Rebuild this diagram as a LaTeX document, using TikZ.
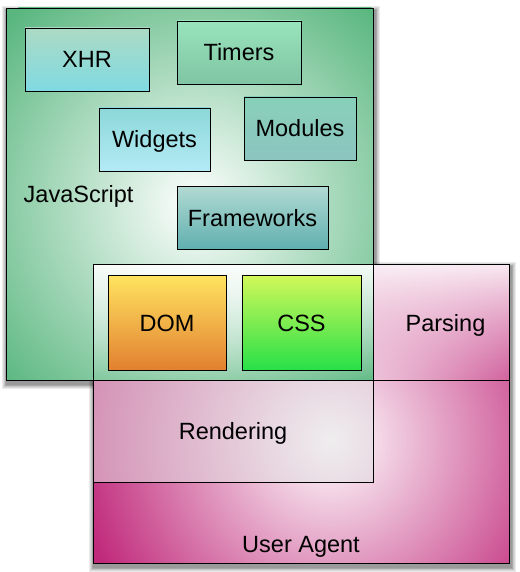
\documentclass[tikz,border=0pt]{standalone}
\usepackage{fontspec}
\setmainfont{Liberation Sans}
\usetikzlibrary{calc,fadings,backgrounds}
\definecolor{jsgreen}{RGB}{88,182,126}
\definecolor{uapink}{RGB}{192,40,122}
\definecolor{rendgray}{RGB}{226,224,226}
\definecolor{xhrtop}{RGB}{172,218,196}
\definecolor{xhrbot}{RGB}{128,218,226}
\definecolor{timtop}{RGB}{152,228,188}
\definecolor{timbot}{RGB}{128,196,164}
\definecolor{modtop}{RGB}{136,208,184}
\definecolor{modbot}{RGB}{140,196,192}
\definecolor{widtop}{RGB}{140,216,216}
\definecolor{widbot}{RGB}{180,234,246}
\definecolor{frmtop}{RGB}{178,218,210}
\definecolor{frmbot}{RGB}{96,176,176}
\definecolor{domtop}{RGB}{255,228,96}
\definecolor{dombot}{RGB}{226,128,48}
\definecolor{csstop}{RGB}{210,248,90}
\definecolor{cssbot}{RGB}{40,224,72}
\begin{document}
\begin{tikzpicture}[x=1pt,y=-1pt,
  txt/.style={font=\fontsize{23.5}{28}\selectfont},
  box/.style={txt, draw=black, line width=0.9pt, inner sep=0pt, text height=17pt, text depth=0pt},
  lbl/.style={txt, inner sep=0pt},
  radfill/.style n args={4}{path picture={
    \fill[#1] (path picture bounding box.north west) rectangle (path picture bounding box.south east);
    \shade[inner color=white, outer color=#1] ($(path picture bounding box.north west)+(#2,#3)$) circle (#4);}}]
\useasboundingbox (0,0) rectangle (519,572);

% User Agent container
\node[box, minimum width=416pt, minimum height=299pt, radfill={uapink}{237}{176}{260pt}] (ua) at (301,413.5) {};
% Rendering
\node[box, minimum width=280pt, minimum height=102pt, fill=rendgray, fill opacity=0.55, text opacity=1] (rend) at (233,431) {Rendering};
% JavaScript container
\node[box, minimum width=367pt, minimum height=372pt, radfill={jsgreen}{189}{197}{265pt}] (js) at (189.5,194) {};
% Parsing
\node[box, minimum width=416pt, minimum height=116pt,
  path picture={\fill[white, fill opacity=0.9, path fading=south] (path picture bounding box.north west) rectangle (path picture bounding box.south east);}] (pars) at (301,322) {};
\draw[line width=0.9pt] (js.east |- pars.north) -- (js.south east);

% inner boxes
\node[box, top color=xhrtop, bottom color=xhrbot, minimum width=124pt, minimum height=63pt] (xhr) at (87,59.5) {XHR};
\node[box, top color=timtop, bottom color=timbot, minimum width=124pt, minimum height=63pt] (timers) at (239,52.5) {Timers};
\node[box, top color=modtop, bottom color=modbot, minimum width=112pt, minimum height=63pt] (modules) at (300,128.5) {Modules};
\node[box, top color=widtop, bottom color=widbot, minimum width=111pt, minimum height=63pt] (widgets) at (154.5,139.5) {Widgets};
\node[box, top color=frmtop, bottom color=frmbot, minimum width=151pt, minimum height=63pt] (frameworks) at (252.5,217.5) {Frameworks};
\node[box, top color=domtop, bottom color=dombot, minimum width=118pt, minimum height=95pt] (dom) at (167,322.5) {DOM};
\node[box, top color=csstop, bottom color=cssbot, minimum width=119pt, minimum height=95pt] (css) at (301.5,322.5) {CSS};

% labels
\node[lbl, anchor=base west] (jslabel) at (23.5,202) {JavaScript};
\node[lbl, anchor=base] (parslabel) at (445.5,331) {Parsing};
\node[lbl, anchor=base] (ualabel) at (301,552.5) {User Agent};

% background and shadows
\begin{scope}[on background layer]
\fill[white] (0,0) rectangle (519,572);
\foreach \n in {js,ua}{
  \foreach \i in {1,...,6}{
    \fill[black, fill opacity=0.08] ($(\n.north west)+(1.5-0.8*\i,3.5-0.8*\i)$) rectangle ($(\n.south east)+(1.5+0.8*\i,3.5+0.8*\i)$);
  }
}
\end{scope}
\end{tikzpicture}
\end{document}
